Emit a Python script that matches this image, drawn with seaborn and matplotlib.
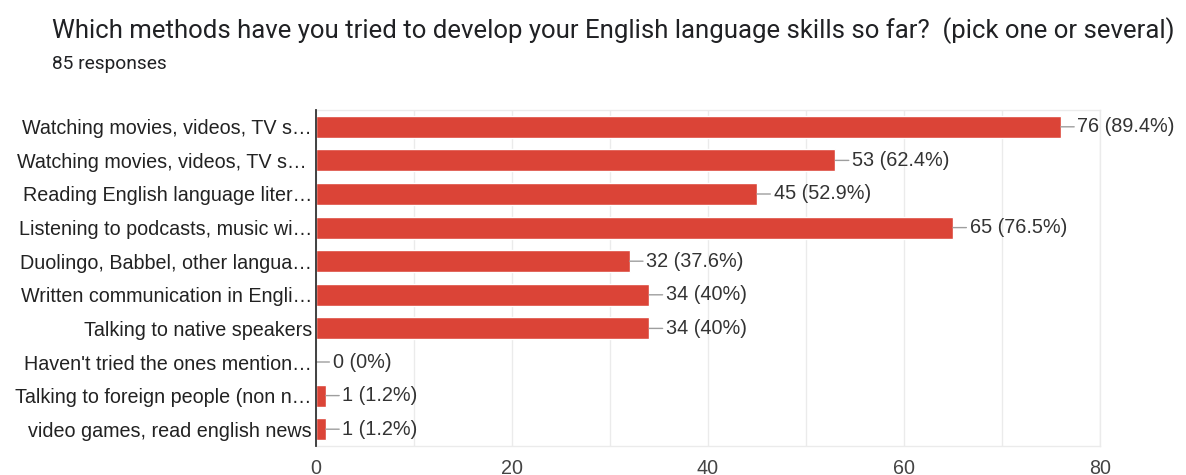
import matplotlib
matplotlib.use("Agg")
import matplotlib.pyplot as plt
from matplotlib.ticker import MultipleLocator
import seaborn as sns
import pandas as pd

# Survey answers (labels truncated as shown on the form summary)
categories = [
    "Watching movies, videos, TV s\u2026",
    "Watching movies, videos, TV s\u2026 ",
    "Reading English language liter\u2026",
    "Listening to podcasts, music wi\u2026",
    "Duolingo, Babbel, other langua\u2026",
    "Written communication in Engli\u2026",
    "Talking to native speakers",
    "Haven't tried the ones mention\u2026",
    "Talking to foreign people (non n\u2026",
    "video games, read english news",
]
counts = [76, 53, 45, 65, 32, 34, 34, 0, 1, 1]
percent_labels = ["89.4%", "62.4%", "52.9%", "76.5%", "37.6%", "40%", "40%", "0%", "1.2%", "1.2%"]
x_ticks = [0, 20, 40, 60, 80]

title_text = "Which methods have you tried to develop your English language skills so far?  (pick one or several)"
subtitle_text = "85 responses"

df = pd.DataFrame({"method": categories, "count": counts})

sns.set_theme(style="white")
plt.rcParams["font.family"] = ["Liberation Sans", "DejaVu Sans"]

W, H = 1186, 475
fig = plt.figure(figsize=(W / 100, H / 100), dpi=100)
ax = fig.add_axes([316 / W, 1 - 446 / H, (1100 - 316) / W, (446 - 110) / H])

bar_color = "#db4437"
sns.barplot(data=df, x="count", y="method", orient="h", color=bar_color,
            width=0.65, saturation=1, ax=ax, order=categories)

ax.set_xlim(0, 80)
ax.set_xticks(x_ticks)
ax.xaxis.set_minor_locator(MultipleLocator(10))
ax.grid(True, axis="x", which="both", color="#ebebeb", lw=1)
ax.set_axisbelow(True)
ax.set_xlabel("")
ax.set_ylabel("")

for side in ["top", "right", "bottom"]:
    ax.spines[side].set_color("#ebebeb")
    ax.spines[side].set_linewidth(1)
ax.spines["left"].set_color("#333333")
ax.spines["left"].set_linewidth(1.3)
ax.spines["left"].set_zorder(5)

ax.tick_params(axis="y", length=0, pad=3, labelsize=14.2, labelcolor="#222222")
ax.tick_params(axis="x", which="both", length=0, pad=9, labelsize=14.2, labelcolor="#444444")

# Value labels with short leader lines
for i, (v, p) in enumerate(zip(counts, percent_labels)):
    ax.annotate(f"{v} ({p})", xy=(v, i), xytext=(12, 0), textcoords="offset points",
                va="center", ha="left", fontsize=14.3, color="#333333",
                arrowprops=dict(arrowstyle="-", color="#9e9e9e", lw=1,
                                shrinkA=0, shrinkB=0))

fig.text(52 / W, 1 - 38.3 / H, title_text, family=["Roboto", "DejaVu Sans"],
         fontsize=18.55, color="#202124", va="baseline", ha="left")
fig.text(52 / W, 1 - 69.3 / H, subtitle_text, family=["Roboto", "DejaVu Sans"],
         fontsize=13.8, color="#202124", va="baseline", ha="left")

fig.savefig("out.png", dpi=100)
